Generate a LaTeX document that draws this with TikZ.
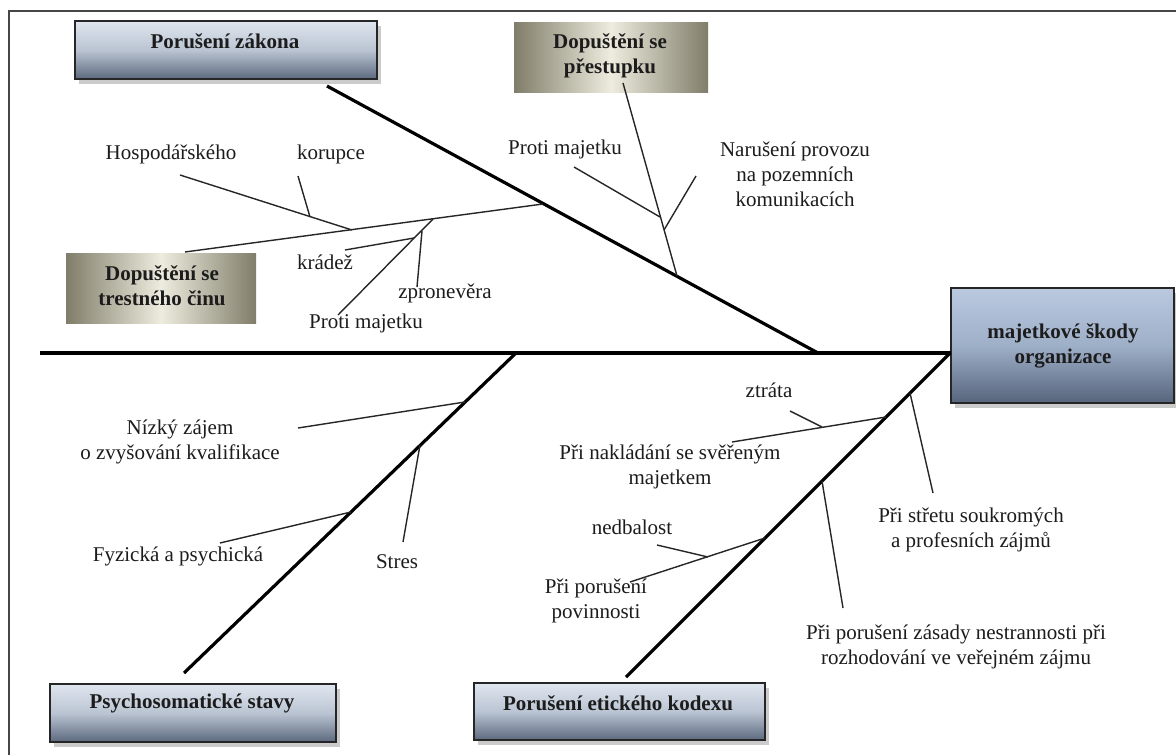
\documentclass[tikz,border=0pt]{standalone}
\usepackage{fontspec}
\setmainfont{Liberation Serif}
\usetikzlibrary{shadows}
\definecolor{frameC}{RGB}{70,70,70}
\definecolor{btop}{RGB}{224,230,239}
\definecolor{bmid}{RGB}{186,196,210}
\definecolor{bbot}{RGB}{92,105,126}
\definecolor{otop}{RGB}{186,201,224}
\definecolor{omid}{RGB}{158,175,200}
\definecolor{obot}{RGB}{86,100,124}
\definecolor{tedge}{RGB}{128,125,106}
\definecolor{tmid}{RGB}{238,236,222}
\definecolor{txt}{RGB}{28,28,28}
\begin{document}
\begin{tikzpicture}[x=1pt,y=-1pt,
  bluebox/.style={draw=black!85, line width=1.6pt, inner sep=0pt,
    top color=btop, bottom color=bbot, middle color=bmid,
    drop shadow={shadow xshift=4pt, shadow yshift=-5pt, fill=black!40}},
  orgbox/.style={bluebox, top color=otop, bottom color=obot, middle color=omid},
  tanbox/.style={draw=none, inner sep=0pt, left color=tedge, right color=tedge, middle color=tmid},
  lbl/.style={font=\fontsize{21pt}{25pt}\selectfont, align=center, text=txt, inner sep=0pt},
  blbl/.style={lbl, font=\fontsize{21pt}{25pt}\selectfont\bfseries},
  thin/.style={line width=1.4pt, black!85},
  bone/.style={line width=3.2pt, black},
  spine/.style={line width=4.6pt, black}
]
\useasboundingbox (0,0) rectangle (1176,755);
\fill[white] (0,0) rectangle (1176,755);
% frame
\coordinate (fbl) at (9,756);
\coordinate (ftl) at (9,11);
\coordinate (ftr) at (1177,11);
\draw[frameC, line width=2pt] (fbl) -- (ftl) -- (ftr);

% boxes
\node[bluebox, minimum width=302pt, minimum height=58pt] (zakon) at (226,50) {};
\node[tanbox, minimum width=194pt, minimum height=70pt] (prest) at (611,57) {};
\node[tanbox, minimum width=190pt, minimum height=70pt] (trest) at (161,288) {};
\node[orgbox, minimum width=223pt, minimum height=115pt] (org) at (1062.5,345.5) {};
\node[bluebox, minimum width=286pt, minimum height=58pt] (psych) at (193,713) {};
\node[bluebox, minimum width=291pt, minimum height=57pt] (etik) at (619.5,711.5) {};

% box texts
\node[blbl] (zakonT) at (225,41) {Porušení zákona};
\node[blbl] (prestT) at (610,56) {Dopuštění se\\přestupku};
\node[blbl] (trestT) at (162,286) {Dopuštění se\\trestného činu};
\node[blbl] (orgT) at (1063,346) {majetkové škody\\organizace};
\node[blbl] (psychT) at (192,703) {Psychosomatické stavy};
\node[blbl] (etikT) at (618,703) {Porušení etického kodexu};

% spine and main bones
\coordinate (s0) at (40,353);
\coordinate (s1) at (951,353);
\draw[spine] (s0) -- (s1);

\coordinate (ua) at (327,86);
\coordinate (ub) at (818,353);
\draw[bone] (ua) -- (ub);

\coordinate (la) at (516,353);
\coordinate (lb) at (184,673);
\draw[bone] (la) -- (lb);

\coordinate (ra) at (950,353);
\coordinate (rb) at (626,677);
\draw[bone] (ra) -- (rb);

% upper right: prestupek
\coordinate (p1) at (623,83);
\coordinate (p2) at (677,276);
\draw[thin] (p1) -- (p2);
\coordinate (pm1) at (574,167);
\coordinate (pm2) at (660,217);
\draw[thin] (pm1) -- (pm2);
\coordinate (na1) at (696,176);
\coordinate (na2) at (664,230);
\draw[thin] (na1) -- (na2);

% upper left: trestny cin
\coordinate (t1) at (185,252);
\coordinate (t2) at (543,204);
\draw[thin] (t1) -- (t2);
\coordinate (h1) at (180,175);
\coordinate (h2) at (352,230);
\draw[thin] (h1) -- (h2);
\coordinate (k1) at (298,176);
\coordinate (k2) at (310,217);
\draw[thin] (k1) -- (k2);
\coordinate (lm1) at (338,315);
\coordinate (lm2) at (433,219);
\draw[thin] (lm1) -- (lm2);
\coordinate (kr1) at (345,250);
\coordinate (kr2) at (414,238);
\draw[thin] (kr1) -- (kr2);
\coordinate (zp1) at (417,287);
\coordinate (zp2) at (422,231);
\draw[thin] (zp1) -- (zp2);

% lower left
\coordinate (nz1) at (298,428);
\coordinate (nz2) at (465,402);
\draw[thin] (nz1) -- (nz2);
\coordinate (st1) at (403,542);
\coordinate (st2) at (420,445);
\draw[thin] (st1) -- (st2);
\coordinate (fy1) at (220,543);
\coordinate (fy2) at (351,512);
\draw[thin] (fy1) -- (fy2);

% lower right
\coordinate (nk1) at (732,442);
\coordinate (nk2) at (886,417);
\draw[thin] (nk1) -- (nk2);
\coordinate (zt1) at (790,411);
\coordinate (zt2) at (822,427);
\draw[thin] (zt1) -- (zt2);
\coordinate (sr1) at (933,493);
\coordinate (sr2) at (910,393);
\draw[thin] (sr1) -- (sr2);
\coordinate (zs1) at (843,608);
\coordinate (zs2) at (822,481);
\draw[thin] (zs1) -- (zs2);
\coordinate (pp1) at (630,582);
\coordinate (pp2) at (765,538);
\draw[thin] (pp1) -- (pp2);
\coordinate (nd1) at (657,545);
\coordinate (nd2) at (708,557);
\draw[thin] (nd1) -- (nd2);

% labels
\node[lbl] (hosp) at (171,154) {Hospodářského};
\node[lbl] (kor) at (331,154) {korupce};
\node[lbl] (pmU) at (565,149) {Proti majetku};
\node[lbl] (nar) at (795,174.5) {Narušení provozu\\na pozemních\\komunikacích};
\node[lbl] (kra) at (325,262) {krádež};
\node[lbl] (zpr) at (445,293) {zpronevěra};
\node[lbl] (pmL) at (366,323) {Proti majetku};
\node[lbl] (niz) at (180,442) {Nízký zájem\\o zvyšování kvalifikace};
\node[lbl] (fyz) at (178,556) {Fyzická a psychická};
\node[lbl] (str) at (397,562) {Stres};
\node[lbl] (ztr) at (769,390) {ztráta};
\node[lbl] (nak) at (670,467) {Při nakládání se svěřeným\\majetkem};
\node[lbl] (ned) at (632,527) {nedbalost};
\node[lbl] (por) at (596,601) {Při porušení\\povinnosti};
\node[lbl] (stf) at (971,530) {Při střetu soukromých\\a profesních zájmů};
\node[lbl] (zas) at (956,647) {Při porušení zásady nestrannosti při\\rozhodování ve veřejném zájmu};
\end{tikzpicture}
\end{document}
